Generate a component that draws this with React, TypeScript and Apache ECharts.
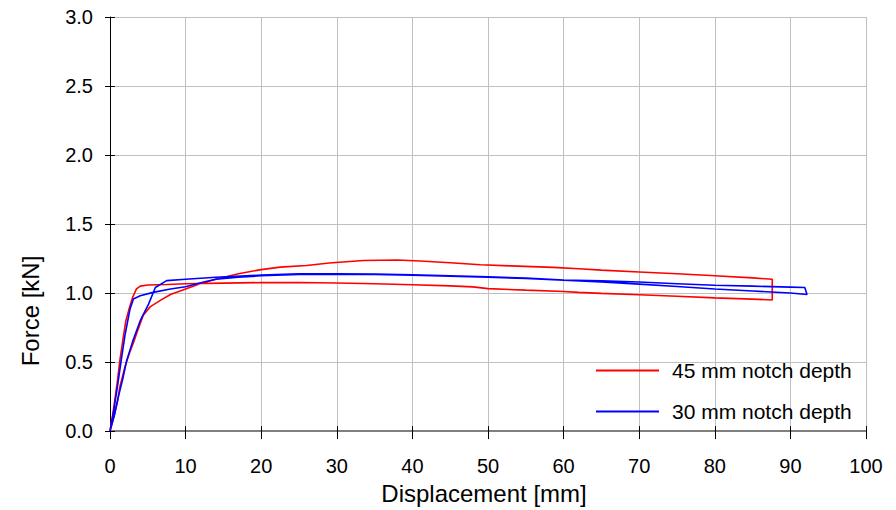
import React, { useEffect, useRef } from "react";
import * as echarts from "echarts";

// Force–displacement records, [displacement mm, force kN]
// 45 mm notch depth, specimen with the stiff initial response
const notch45A: number[][] = [
  [0, 0], [0.3, 0.1], [0.6, 0.21], [1.0, 0.37], [1.3, 0.51], [1.7, 0.66], [2.1, 0.8],
  [2.6, 0.9], [3.0, 0.97], [3.5, 1.03], [4.0, 1.05], [5, 1.058], [7.5, 1.062],
  [10, 1.067], [15, 1.072], [20, 1.076], [25, 1.077], [30, 1.073], [35, 1.068],
  [40, 1.06], [45, 1.052], [48, 1.045], [50, 1.032], [55, 1.021], [60, 1.011],
  [62, 1.005], [65, 0.998], [70, 0.988], [75, 0.977], [80, 0.965], [85, 0.956], [87.6, 0.95],
];
// 45 mm notch depth, specimen with the softer initial response
const notch45B: number[][] = [
  [0, 0], [0.5, 0.1], [1.0, 0.22], [1.3, 0.32], [2.0, 0.47], [2.6, 0.57], [3.1, 0.64],
  [3.6, 0.72], [4.4, 0.84], [5.3, 0.9], [6.6, 0.945], [8, 0.99], [10, 1.03], [12, 1.07],
  [14, 1.1], [17, 1.14], [20, 1.17], [22.5, 1.188], [26, 1.2], [29, 1.218],
  [33.5, 1.236], [38, 1.24], [41, 1.232], [45, 1.22], [49, 1.205], [53, 1.197],
  [58.6, 1.186], [62, 1.176], [65, 1.166], [70, 1.153], [75, 1.14], [80, 1.125],
  [85, 1.11], [87.6, 1.1],
];
// 30 mm notch depth, specimen with the stiff initial response
const notch30A: number[][] = [
  [0, 0], [0.5, 0.15], [1.0, 0.33], [1.5, 0.52], [2.0, 0.7], [2.65, 0.885], [3.1, 0.957],
  [4, 0.98], [5.7, 1.005], [8, 1.03], [10, 1.046], [12, 1.075], [14, 1.1], [17, 1.115],
  [20, 1.125], [25, 1.135], [30, 1.137], [35, 1.135], [40, 1.13], [45, 1.122],
  [50, 1.115], [55, 1.105], [60, 1.093], [65, 1.08], [70, 1.065], [75, 1.048],
  [80, 1.03], [85, 1.015], [90, 1.0], [92.2, 0.99],
];
// 30 mm notch depth, specimen with the softer initial response
const notch30B: number[][] = [
  [0, 0], [0.6, 0.12], [1.2, 0.27], [1.7, 0.38], [2.2, 0.51], [3.0, 0.65], [4, 0.8],
  [5.1, 0.92], [6, 1.04], [7.5, 1.09], [10, 1.1], [14, 1.115], [20, 1.13], [25, 1.14],
  [30, 1.14], [35, 1.137], [40, 1.132], [45, 1.125], [50, 1.118], [55, 1.108],
  [60, 1.095], [65, 1.088], [70, 1.08], [75, 1.068], [80, 1.057], [85, 1.05],
  [90, 1.043], [91.9, 1.04],
];

const seriesNames = ["45 mm notch depth", "30 mm notch depth"];
const seriesColors = ["#ff0000", "#0000ff"];

const xName = "Displacement [mm]";
const yName = "Force [kN]";
const xMin = 0;
const xMax = 100;
const xStep = 10;
const yMin = 0;
const yMax = 3;
const yStep = 0.5;

const FONT = "'Liberation Sans', Arial, sans-serif";

// Each specimen pair is drawn as one closed trace: out along the first record,
// across the end of test, and back along the second one.
const loop = (a: number[][], b: number[][]) => [...a, ...b.slice().reverse()];

export default function App() {
  const ref = useRef<HTMLDivElement>(null);

  useEffect(() => {
    if (!ref.current) return;
    const chart = echarts.init(ref.current, undefined, { renderer: "svg" });

    const tickCommon = { show: true, lineStyle: { color: "#000", width: 1 } };

    chart.setOption({
      animation: false,
      backgroundColor: "#fff",
      grid: { left: 110, right: 30, top: 17, bottom: 75, containLabel: false },
      legend: {
        orient: "vertical",
        left: 591,
        top: 355,
        itemWidth: 63,
        itemHeight: 14,
        itemGap: 20,
        icon: "path://M0,6 L63,6 L63,8 L0,8 Z",
        textStyle: {
          fontSize: 21,
          fontFamily: FONT,
          color: "#000",
          lineHeight: 21,
          padding: [0, 0, 0, 8],
        },
        data: seriesNames,
      },
      xAxis: [
        {
          type: "value",
          position: "bottom",
          min: xMin,
          max: xMax,
          interval: xStep,
          name: xName,
          nameLocation: "middle",
          nameGap: 47,
          nameTextStyle: {
            fontSize: 24,
            fontFamily: FONT,
            color: "#000",
            padding: [0, 8, 0, 0],
          },
          axisLine: { show: true, onZero: false, lineStyle: { color: "#808080", width: 2 } },
          axisTick: { ...tickCommon, inside: false, length: 8 },
          axisLabel: { fontSize: 20, fontFamily: FONT, color: "#000", margin: 25 },
          splitLine: { show: true, lineStyle: { color: "#c0c0c0", width: 1 } },
        },
        {
          type: "value",
          position: "bottom",
          min: xMin,
          max: xMax,
          interval: xStep,
          axisLine: { show: false },
          axisTick: { ...tickCommon, inside: true, length: 5 },
          axisLabel: { show: false },
          splitLine: { show: false },
        },
      ],
      yAxis: [
        {
          type: "value",
          position: "left",
          min: yMin,
          max: yMax,
          interval: yStep,
          axisLine: { show: true, onZero: false, lineStyle: { color: "#000", width: 1 } },
          axisTick: { ...tickCommon, inside: false, length: 5 },
          axisLabel: {
            fontSize: 20,
            fontFamily: FONT,
            color: "#000",
            margin: 17,
            formatter: (v: number) => v.toFixed(1),
          },
          splitLine: { show: true, lineStyle: { color: "#c0c0c0", width: 1 } },
        },
        {
          type: "value",
          position: "left",
          min: yMin,
          max: yMax,
          interval: yStep,
          axisLine: { show: false },
          axisTick: { ...tickCommon, inside: true, length: 5 },
          axisLabel: { show: false },
          splitLine: { show: false },
        },
      ],
      graphic: [
        {
          type: "text",
          x: 30,
          y: 311,
          rotation: Math.PI / 2,
          style: {
            text: yName,
            fontSize: 24,
            fontFamily: FONT,
            fill: "#000",
            align: "center",
            verticalAlign: "middle",
          },
        },
      ],
      series: [
        {
          name: seriesNames[0],
          type: "line",
          data: loop(notch45A, notch45B),
          showSymbol: false,
          symbol: "none",
          color: seriesColors[0],
          lineStyle: { color: seriesColors[0], width: 1.6 },
        },
        {
          name: seriesNames[1],
          type: "line",
          data: loop(notch30A, notch30B),
          showSymbol: false,
          symbol: "none",
          color: seriesColors[1],
          lineStyle: { color: seriesColors[1], width: 1.6 },
        },
      ],
    });

    return () => chart.dispose();
  }, []);

  return (
    <div
      ref={ref}
      style={{ position: "fixed", left: 0, top: 0, width: 896, height: 510 }}
    />
  );
}
